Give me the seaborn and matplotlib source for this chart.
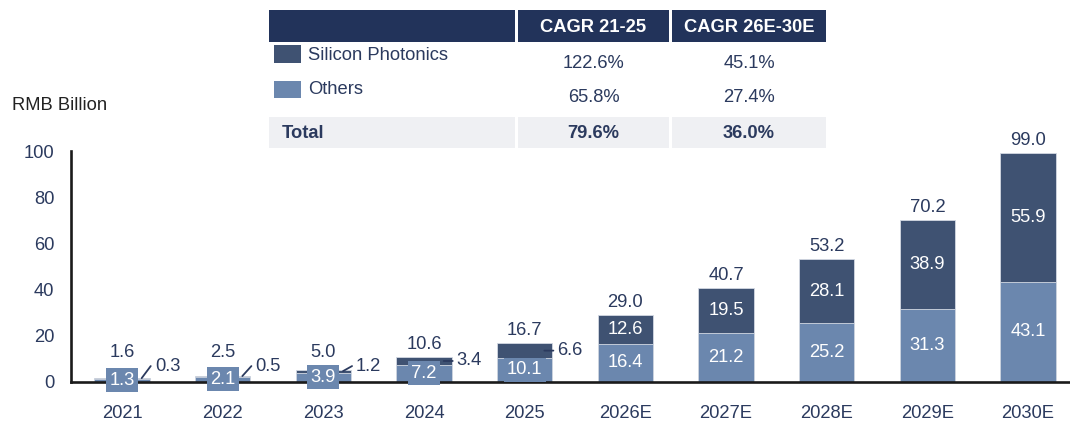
import pandas as pd
import seaborn as sns
import matplotlib.pyplot as plt
from matplotlib.patches import Rectangle

years = ['2021', '2022', '2023', '2024', '2025', '2026E', '2027E', '2028E', '2029E', '2030E']
others = [1.3, 2.1, 3.9, 7.2, 10.1, 16.4, 21.2, 25.2, 31.3, 43.1]
silicon = [0.3, 0.5, 1.2, 3.4, 6.6, 12.6, 19.5, 28.1, 38.9, 55.9]
totals = [1.6, 2.5, 5.0, 10.6, 16.7, 29.0, 40.7, 53.2, 70.2, 99.0]

cagr_cols = ['CAGR 21-25', 'CAGR 26E-30E']
cagr_silicon = ['122.6%', '45.1%']
cagr_others = ['65.8%', '27.4%']
cagr_total = ['79.6%', '36.0%']

dark = '#3f5272'
light = '#6b87ae'
navy = '#2b3a5e'
header = '#22335a'
rowbg = '#eff0f3'

sns.set_style('white')
plt.rcParams['font.family'] = ['Liberation Sans', 'DejaVu Sans']
fs = 13.2

df = pd.DataFrame({'year': years, 'others': others, 'silicon': silicon})
df['stack'] = df.others + df.silicon

W, H = 1070, 421
fig = plt.figure(figsize=(W / 100, H / 100), dpi=100)
ax = fig.add_axes([71 / W, (H - 381.5) / H, (W - 71) / W, 230.5 / H])

sns.barplot(data=df, x='year', y='stack', color=dark, saturation=1, width=0.55,
            edgecolor='#d3d9e3', linewidth=0.6, ax=ax)
sns.barplot(data=df, x='year', y='others', color=light, saturation=1, width=0.55,
            edgecolor='#d3d9e3', linewidth=0.6, ax=ax)

ax.set_xlim(-0.507, 9.417)
ax.set_ylim(0, 100)
ax.set_yticks(range(0, 101, 20))
ax.set_xlabel('')
ax.set_ylabel('')
sns.despine(ax=ax)
for s in ['left', 'bottom']:
    ax.spines[s].set_linewidth(1.9)
    ax.spines[s].set_color('#1a1a1a')
ax.tick_params(axis='x', length=0, pad=17, labelsize=fs, labelcolor=navy)
ax.tick_params(axis='y', length=4, width=1.5, color='#1a1a1a', pad=8, labelsize=fs, labelcolor=navy)

half = 0.275
for i in range(len(years)):
    o, s, t = others[i], silicon[i], totals[i]
    # others label (boxed so it stays readable on thin bars)
    ax.text(i, o / 2, f'{o:.1f}', ha='center', va='center', color='white', fontsize=fs,
            bbox=dict(boxstyle='square,pad=0.18', fc=light, ec='none'), clip_on=False, zorder=5)
    # total on top
    ax.annotate(f'{t:.1f}', xy=(i, max(o + s, 7.2)), xytext=(0, 4), textcoords='offset pixels',
                ha='center', va='bottom', color=navy, fontsize=fs, annotation_clip=False)
    mid = o + s / 2
    if i >= 5:
        ax.text(i, mid, f'{s:.1f}', ha='center', va='center', color='white', fontsize=fs, zorder=5)
    else:
        ly = max(mid, 6.7)
        ax.annotate('', xy=(i + half - 0.08, mid), xytext=(i + half + 0.01, ly),
                    arrowprops=dict(arrowstyle='-', color=navy, lw=1.3, shrinkA=0, shrinkB=0),
                    annotation_clip=False)
        ax.text(i + half + 0.05, ly, f'{s:.1f}', ha='left', va='center', color=navy, fontsize=fs,
                clip_on=False)

# unit label
fig.text(12 / W, 1 - 106 / H, 'RMB Billion', ha='left', va='center', fontsize=fs, color='#222222')


def rect(x0, y0, x1, y1, color):
    fig.add_artist(Rectangle((x0 / W, 1 - y1 / H), (x1 - x0) / W, (y1 - y0) / H,
                             transform=fig.transFigure, fc=color, ec='none'))


def ftext(x, y, s, **kw):
    fig.text(x / W, 1 - y / H, s, va='center', fontsize=fs, **kw)


cols = [(269, 515), (518, 669), (672, 826)]
# header row
for x0, x1 in cols:
    rect(x0, 10, x1, 42, header)
for (x0, x1), c in zip(cols[1:], cagr_cols):
    ftext((x0 + x1) / 2, 27, c, ha='center', color='white', fontweight='bold')

# legend rows
rect(274, 45, 301, 63, dark)
rect(274, 81, 301, 98, light)
ftext(308, 55, 'Silicon Photonics', ha='left', color=navy)
ftext(308, 90, 'Others', ha='left', color=navy)
for (x0, x1), a, b in zip(cols[1:], cagr_silicon, cagr_others):
    ftext((x0 + x1) / 2, 63, a, ha='center', color=navy)
    ftext((x0 + x1) / 2, 98, b, ha='center', color=navy)

# total row
for x0, x1 in cols:
    rect(x0, 117, x1, 148, rowbg)
ftext(282, 133, 'Total', ha='left', color=navy, fontweight='bold')
for (x0, x1), c in zip(cols[1:], cagr_total):
    ftext((x0 + x1) / 2, 134, c, ha='center', color=navy, fontweight='bold')

plt.savefig('out.png', dpi=100)
